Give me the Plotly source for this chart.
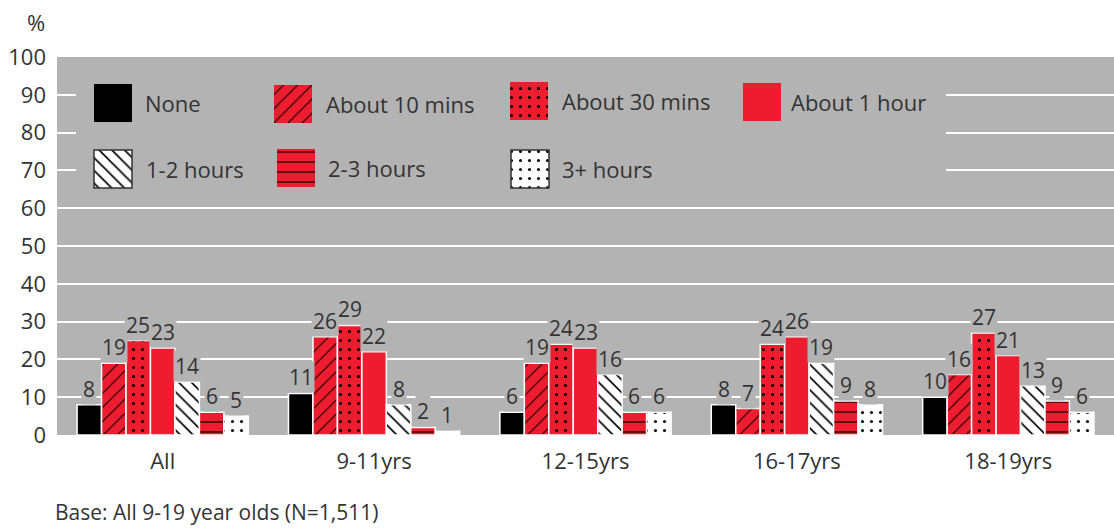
import plotly.graph_objects as go

# ---- data -------------------------------------------------------------
groups = ["All", "9-11yrs", "12-15yrs", "16-17yrs", "18-19yrs"]
series_names = ["None", "About 10 mins", "About 30 mins", "About 1 hour",
                "1-2 hours", "2-3 hours", "3+ hours"]
none_vals = [8, 11, 6, 8, 10]
mins10_vals = [19, 26, 19, 7, 16]
mins30_vals = [25, 29, 24, 24, 27]
hour1_vals = [23, 22, 23, 26, 21]
hours1_2_vals = [14, 8, 16, 19, 13]
hours2_3_vals = [6, 2, 6, 9, 9]
hours3p_vals = [5, 1, 6, 8, 6]
y_tick_vals = [0, 10, 20, 30, 40, 50, 60, 70, 80, 90, 100]
base_note = "Base: All 9-19 year olds (N=1,511)"

series_vals = [none_vals, mins10_vals, mins30_vals, hour1_vals,
               hours1_2_vals, hours2_3_vals, hours3p_vals]
group_pos = list(range(len(groups)))

# ---- styles -----------------------------------------------------------
RED = "#ed1c2e"
GREY_BG = "#b3b3b3"
TEXT = "#333333"
FONT = "Open Sans"

def pat(shape, fg, bg, size, solidity):
    return dict(shape=shape, fgcolor=fg, bgcolor=bg, size=size,
                solidity=solidity, fillmode="replace")

styles = [
    dict(color="#000000", pattern=None, edge=None),
    dict(color=RED, pattern=pat("/", "#000000", RED, 10, 0.1), edge=None),
    dict(color=RED, pattern=pat(".", "#000000", RED, 9, 0.09), edge=None),
    dict(color=RED, pattern=None, edge=None),
    dict(color="#ffffff", pattern=pat("\\", "#000000", "#ffffff", 9, 0.18), edge="#333333"),
    dict(color=RED, pattern=pat("-", "#2a0507", RED, 10, 0.14), edge=None),
    dict(color="#ffffff", pattern=pat(".", "#000000", "#ffffff", 9, 0.09), edge="#333333"),
]

BARGAP = 0.19
n_series = len(series_names)
bar_w = (1 - BARGAP) / n_series

fig = go.Figure()

# ---- main grouped bars -------------------------------------------------
for name, vals, st in zip(series_names, series_vals, styles):
    marker = dict(color=st["color"], line=dict(color="#ffffff", width=1.5))
    if st["pattern"]:
        marker["pattern"] = st["pattern"]
    fig.add_trace(go.Bar(name=name, x=group_pos, y=vals, marker=marker,
                         showlegend=False, hoverinfo="skip"))

# value labels with a grey backing so gridlines break around them
annotations = []
for j, vals in enumerate(series_vals):
    offset = (j - (n_series - 1) / 2) * bar_w
    for i, v in zip(group_pos, vals):
        annotations.append(dict(
            x=i + offset, y=v, xref="x", yref="y", text=str(v),
            showarrow=False, yanchor="bottom", yshift=0,
            bgcolor=GREY_BG, borderpad=1,
            font=dict(family=FONT, size=21, color=TEXT)))

# ---- legend drawn inside the plot area (pixel-like overlay axes) --------
PLOT_L, PLOT_R, PLOT_T, PLOT_B = 57, 1114, 57, 435
SW = 38
# grey panel behind the legend hides the gridlines there
fig.add_trace(go.Bar(x=[76], y=[126], base=[72], width=[870], offset=0,
                     xaxis="x2", yaxis="y2",
                     marker=dict(color=GREY_BG, line=dict(width=0)),
                     showlegend=False, hoverinfo="skip"))

legend_cells = [  # (swatch left, swatch top, label left)
    (94, 84, 143), (274, 85, 324), (510, 82, 560), (743, 83, 789),
    (94, 150, 144), (277, 149, 326), (511, 150, 560),
]
for (sx, sy, tx), name, st in zip(legend_cells, series_names, styles):
    marker = dict(color=st["color"],
                  line=dict(color=st["edge"] or st["color"],
                            width=1.5 if st["edge"] else 0))
    if st["pattern"]:
        marker["pattern"] = st["pattern"]
    fig.add_trace(go.Bar(x=[sx], y=[SW], base=[sy], width=[SW], offset=0,
                         xaxis="x2", yaxis="y2", marker=marker,
                         showlegend=False, hoverinfo="skip"))
    annotations.append(dict(
        x=tx, y=sy + SW / 2, xref="x2", yref="y2", text=name,
        showarrow=False, xanchor="left", yanchor="middle",
        font=dict(family=FONT, size=22, color=TEXT)))

def px_x(px):
    return (px - PLOT_L) / (PLOT_R - PLOT_L)

def px_y(py):
    return (PLOT_B - py) / (PLOT_B - PLOT_T)

# "%" unit and base note
annotations.append(dict(x=px_x(36), y=px_y(22), xref="paper", yref="paper",
                        text="%", showarrow=False,
                        xanchor="center", yanchor="middle",
                        font=dict(family=FONT, size=22, color=TEXT)))
annotations.append(dict(x=px_x(53), y=px_y(512), xref="paper", yref="paper",
                        text=base_note, showarrow=False,
                        xanchor="left", yanchor="middle",
                        font=dict(family=FONT, size=21, color=TEXT)))

fig.update_layout(
    width=1114, height=528,
    margin=dict(l=PLOT_L, r=1114 - PLOT_R, t=PLOT_T, b=528 - PLOT_B, pad=0),
    paper_bgcolor="#ffffff", plot_bgcolor=GREY_BG,
    barmode="group", bargap=BARGAP, bargroupgap=0,
    font=dict(family=FONT, size=22, color=TEXT),
    showlegend=False, hovermode=False,
    annotations=annotations,
    xaxis=dict(range=[-0.5, len(groups) - 0.5], tickvals=group_pos,
               ticktext=groups, showgrid=False, zeroline=False,
               showline=False, ticks="", ticklabelstandoff=11,
               tickfont=dict(family=FONT, size=22, color=TEXT)),
    yaxis=dict(range=[0, 100], tickvals=y_tick_vals, showgrid=True,
               gridcolor="#ffffff", gridwidth=2, zeroline=False,
               showline=False, ticks="", ticklabelstandoff=10,
               tickfont=dict(family=FONT, size=22, color=TEXT)),
    xaxis2=dict(overlaying="x", range=[PLOT_L, PLOT_R], visible=False,
                fixedrange=True),
    yaxis2=dict(overlaying="y", range=[PLOT_B, PLOT_T], visible=False,
                fixedrange=True),
)

fig.write_html("out.html")
